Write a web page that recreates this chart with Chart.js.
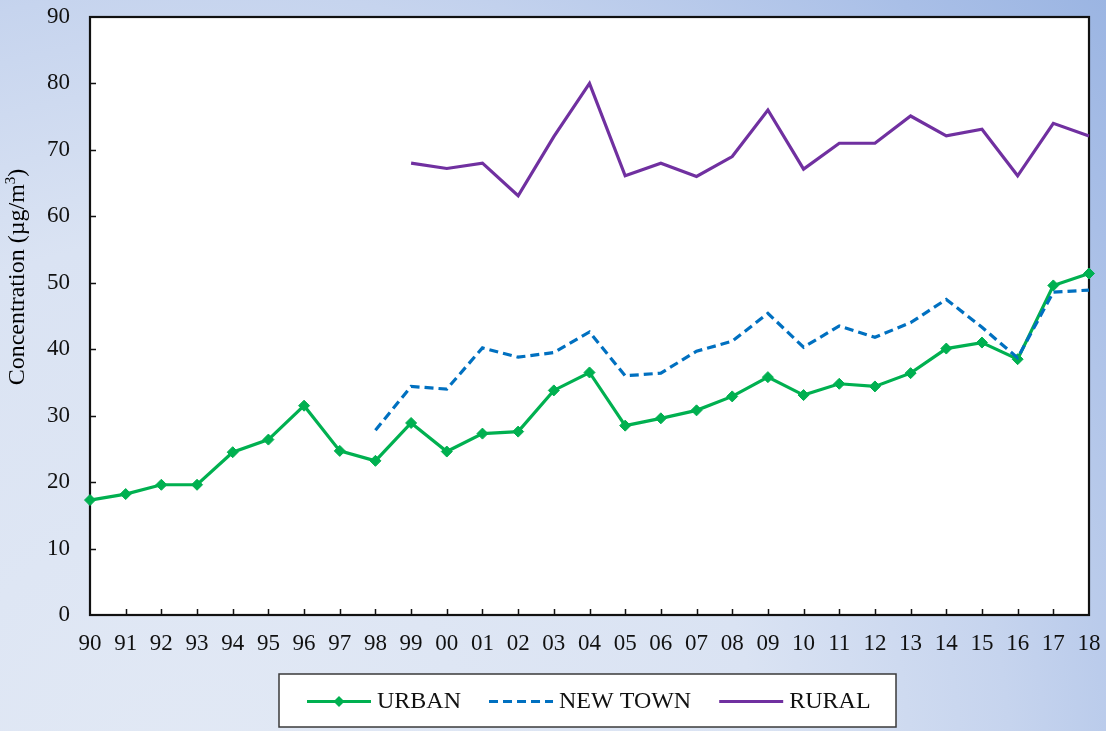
<!DOCTYPE html>
<html>
<head>
<meta charset="utf-8">
<title>Concentration 1990–2018</title>
<script src="https://cdn.jsdelivr.net/npm/chart.js@4"></script>
<style>
  html, body { margin: 0; padding: 0; background: #dfe6f4; }
  #wrap { width: 1106px; height: 731px; }
</style>
</head>
<body>
<div id="wrap"><canvas id="chart" width="1106" height="731"></canvas></div>
<script>
// Year labels (two-digit)
const years = ['90','91','92','93','94','95','96','97','98','99',
               '00','01','02','03','04','05','06','07','08','09',
               '10','11','12','13','14','15','16','17','18'];

// Annual mean concentrations (µg/m³)
const urban = [17.3, 18.2, 19.6, 19.6, 24.5, 26.4, 31.5, 24.7, 23.2, 28.9,
               24.6, 27.3, 27.6, 33.8, 36.5, 28.5, 29.6, 30.8, 32.9, 35.8,
               33.1, 34.8, 34.4, 36.4, 40.1, 41.0, 38.5, 49.6, 51.4];
const newTown = [null, null, null, null, null, null, null, null, 27.8, 34.4,
                 34.0, 40.2, 38.8, 39.5, 42.6, 36.0, 36.4, 39.7, 41.2, 45.4,
                 40.3, 43.5, 41.8, 44.0, 47.5, 43.3, 38.7, 48.6, 48.9];
const rural = [null, null, null, null, null, null, null, null, null, 68.0,
               67.2, 68.0, 63.1, 72.0, 80.0, 66.1, 68.0, 66.0, 69.0, 76.0,
               67.1, 71.0, 71.0, 75.1, 72.1, 73.1, 66.1, 74.0, 72.1];

const yTicks = [0, 10, 20, 30, 40, 50, 60, 70, 80, 90];

const SERIF = '"Liberation Serif", "Times New Roman", serif';
const GREEN = '#00b050', BLUE = '#0070c0', PURPLE = '#7030a0';

// Page background, plot frame, inner tick marks, axis title and boxed legend
const decor = {
  id: 'decor',
  beforeDraw(chart) {
    const { ctx, chartArea: a, width, height } = chart;
    ctx.save();
    const g = ctx.createRadialGradient(200, 800, 0, 200, 800, 1250);
    g.addColorStop(0, '#e2e9f5');
    g.addColorStop(0.45, '#dae3f3');
    g.addColorStop(0.65, '#c6d4ee');
    g.addColorStop(0.85, '#a9bfe7');
    g.addColorStop(1, '#97b2e1');
    ctx.fillStyle = g;
    ctx.fillRect(0, 0, width, height);
    ctx.fillStyle = '#ffffff';
    ctx.fillRect(a.left, a.top, a.right - a.left, a.bottom - a.top);
    ctx.restore();
  },
  beforeDatasetsDraw(chart) {
    const { ctx, chartArea: a, scales: { x, y } } = chart;
    ctx.save();
    ctx.strokeStyle = '#111111';
    ctx.lineWidth = 1.5;
    ctx.beginPath();
    for (let i = 1; i < years.length - 1; i++) {
      const px = Math.round(x.getPixelForValue(i)) + 0.5;
      ctx.moveTo(px, a.bottom);
      ctx.lineTo(px, a.bottom - 6);
    }
    yTicks.slice(1, -1).forEach(v => {
      const py = Math.round(y.getPixelForValue(v)) + 0.5;
      ctx.moveTo(a.left, py);
      ctx.lineTo(a.left + 6, py);
    });
    ctx.stroke();
    ctx.lineWidth = 2.2;
    ctx.strokeRect(a.left, a.top, a.right - a.left, a.bottom - a.top);
    ctx.restore();
  },
  afterDraw(chart) {
    const { ctx } = chart;
    ctx.save();

    // Y axis title with superscript
    ctx.translate(18, 277);
    ctx.rotate(-Math.PI / 2);
    ctx.fillStyle = '#000';
    ctx.textBaseline = 'middle';
    ctx.textAlign = 'left';
    const mainFont = '24px ' + SERIF, supFont = '15px ' + SERIF;
    const p1 = 'Concentration (\u00b5g/m', p2 = '3', p3 = ')';
    ctx.font = mainFont; const w1 = ctx.measureText(p1).width, w3 = ctx.measureText(p3).width;
    ctx.font = supFont; const w2 = ctx.measureText(p2).width;
    let sx = -(w1 + w2 + w3) / 2;
    ctx.font = mainFont; ctx.fillText(p1, sx, 0); sx += w1;
    ctx.font = supFont; ctx.fillText(p2, sx, -7); sx += w2;
    ctx.font = mainFont; ctx.fillText(p3, sx, 0);
    ctx.restore();

    // Legend box
    ctx.save();
    const box = { left: 279, top: 674, right: 896, bottom: 727 };
    ctx.fillStyle = '#ffffff';
    ctx.fillRect(box.left, box.top, box.right - box.left, box.bottom - box.top);
    ctx.strokeStyle = '#3a3a3a';
    ctx.lineWidth = 1.5;
    ctx.strokeRect(box.left, box.top, box.right - box.left, box.bottom - box.top);
    ctx.font = '24px ' + SERIF;
    ctx.textBaseline = 'middle';
    ctx.textAlign = 'left';
    const cy = (box.top + box.bottom) / 2 + 1;
    const lineLen = 64, textGap = 6, itemGap = 28;
    let lx = box.left + 28;
    chart.data.datasets.forEach(ds => {
      ctx.save();
      ctx.strokeStyle = ds.borderColor;
      ctx.lineWidth = ds.borderWidth;
      ctx.setLineDash(ds.borderDash || []);
      ctx.beginPath();
      ctx.moveTo(lx, cy);
      ctx.lineTo(lx + lineLen, cy);
      ctx.stroke();
      ctx.restore();
      if (ds.pointRadius > 0) {
        const r = ds.pointRadius;
        ctx.fillStyle = ds.pointBackgroundColor;
        ctx.beginPath();
        ctx.moveTo(lx + lineLen / 2, cy - r);
        ctx.lineTo(lx + lineLen / 2 + r, cy);
        ctx.lineTo(lx + lineLen / 2, cy + r);
        ctx.lineTo(lx + lineLen / 2 - r, cy);
        ctx.closePath();
        ctx.fill();
      }
      ctx.fillStyle = '#111';
      ctx.fillText(ds.label, lx + lineLen + textGap, cy);
      lx += lineLen + textGap + ctx.measureText(ds.label).width + itemGap;
    });
    ctx.restore();
  }
};

new Chart(document.getElementById('chart'), {
  type: 'line',
  data: {
    labels: years,
    datasets: [
      {
        label: 'URBAN', data: urban, order: 1,
        borderColor: GREEN, backgroundColor: GREEN, borderWidth: 3.2,
        pointStyle: 'rectRot', pointRadius: 5.5,
        pointBackgroundColor: GREEN, pointBorderColor: GREEN, pointBorderWidth: 1,
        tension: 0, clip: false, spanGaps: false
      },
      {
        label: 'NEW TOWN', data: newTown, order: 0,
        borderColor: BLUE, backgroundColor: BLUE, borderWidth: 3.2,
        borderDash: [9, 5], pointRadius: 0,
        tension: 0, clip: false
      },
      {
        label: 'RURAL', data: rural, order: 2,
        borderColor: PURPLE, backgroundColor: PURPLE, borderWidth: 3.2,
        pointRadius: 0, tension: 0, clip: false
      }
    ]
  },
  options: {
    responsive: false,
    animation: false,
    devicePixelRatio: 1,
    layout: { padding: { top: 17, right: 17, left: 0, bottom: 0 } },
    plugins: { legend: { display: false }, tooltip: { enabled: false } },
    scales: {
      x: {
        type: 'category',
        offset: false,
        grid: { display: false, drawTicks: false },
        border: { display: false },
        ticks: {
          color: '#111', font: { family: SERIF, size: 23 },
          padding: 15, maxRotation: 0, minRotation: 0, autoSkip: false
        },
        afterFit(s) { s.height = 116; s.paddingLeft = 0; s.paddingRight = 0; }
      },
      y: {
        min: 0, max: 90,
        grid: { display: false, drawTicks: false },
        border: { display: false },
        afterBuildTicks(s) { s.ticks = yTicks.map(v => ({ value: v })); },
        ticks: {
          color: '#111', font: { family: SERIF, size: 23 },
          padding: 20
        },
        afterFit(s) { s.width = 90; s.paddingTop = 0; s.paddingBottom = 0; }
      }
    }
  },
  plugins: [decor]
});
</script>
</body>
</html>
